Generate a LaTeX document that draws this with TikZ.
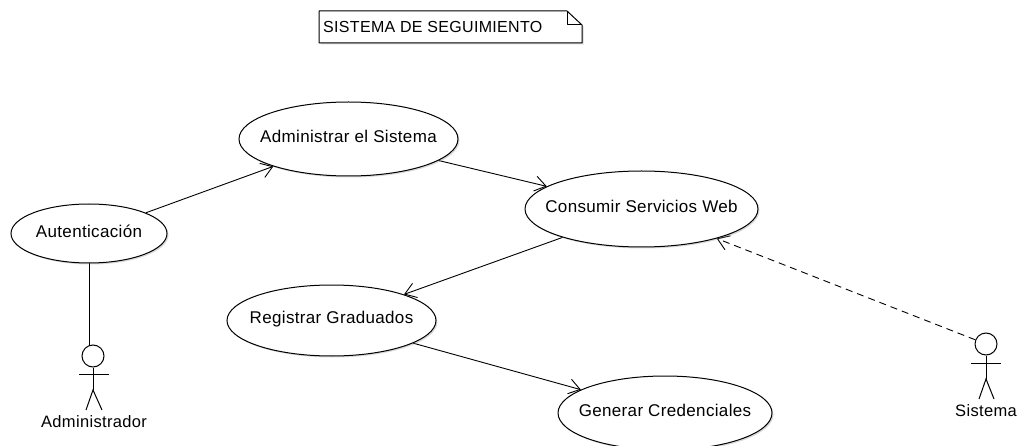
\documentclass[tikz,border=0pt]{standalone}
\usepackage{fontspec}
\setmainfont{Liberation Sans}[LetterSpace=2]
\usetikzlibrary{arrows.meta}
\usetikzlibrary{shadows}
\usetikzlibrary{shapes.geometric}
\pgfdeclarelayer{edgelayer}
\pgfdeclarelayer{nodelayer}
\pgfsetlayers{edgelayer,main,nodelayer}
\newcommand{\caseText}[1]{\makebox[0pt]{\raisebox{5.5pt}{#1}}}
\tikzstyle{use_case}=[fill=white, draw=black, shape=ellipse, inner sep=0pt, line width=1pt, font=\fontsize{17}{19}\selectfont, drop shadow={shadow xshift=1.5pt, shadow yshift=-1.5pt, opacity=0.3}]
\tikzstyle{actor_head}=[fill=white, draw=black, shape=circle, inner sep=0pt, minimum size=22pt, line width=1pt]
\tikzstyle{actor_line}=[-, draw=black, line width=1pt]
\tikzstyle{myText}=[inner sep=0pt, font=\fontsize{16.5}{18}\selectfont]
\tikzstyle{note_line}=[draw=black, fill=white, line width=1pt, line join=round]
\tikzstyle{main_connector}=[-{Straight Barb[length=11pt,width=15pt]}, draw=black, line width=0.9pt]
\tikzstyle{start_connector}=[-, draw=black, line width=0.9pt]
\tikzstyle{dashed_connector}=[-{Straight Barb[length=11pt,width=15pt]}, draw=black, line width=0.9pt, dash pattern=on 7pt off 5pt]

\begin{document}
\begin{tikzpicture}[x=1pt, y=-1pt]
    \useasboundingbox (0, 0) rectangle (1022, 446);
    \begin{pgfonlayer}{nodelayer}
        % note at the top
        \draw [style={note_line}, drop shadow={shadow xshift=1.5pt, shadow yshift=-1.5pt, opacity=0.3}] (319, 11) -- (567, 11) -- (582, 25) -- (582, 43) -- (319, 43) -- cycle;
        \draw [style={note_line}, fill=none] (567, 11) -- (567, 25) -- (582, 25);
        \node [style=myText, anchor=west, font=\fontsize{16}{18}\selectfont] (title) at (323, 27) {SISTEMA DE SEGUIMIENTO};

        % use cases
        \node [style={use_case}, minimum width=156pt, minimum height=59pt] (auth) at (89, 233.5) {\caseText{Autenticación}};
        \node [style={use_case}, minimum width=219pt, minimum height=74pt] (admin) at (348.5, 139) {\caseText{Administrar el Sistema}};
        \node [style={use_case}, minimum width=233pt, minimum height=76pt] (web) at (641.5, 209) {\caseText{Consumir Servicios Web}};
        \node [style={use_case}, minimum width=209pt, minimum height=71pt] (grad) at (331.5, 320.5) {\caseText{Registrar Graduados}};
        \node [style={use_case}, minimum width=214pt, minimum height=74pt] (cred) at (665, 413) {\caseText{Generar Credenciales}};

        % actor on the left
        \node [style={actor_head}] (head1) at (93, 356) {};
        \coordinate (arm1a) at (79, 374);
        \coordinate (arm1b) at (109, 374);
        \coordinate (hip1) at (93, 390);
        \coordinate (leg1a) at (86, 410);
        \coordinate (leg1b) at (102, 410);
        \draw [style={actor_line}] (head1) -- (hip1);
        \draw [style={actor_line}] (arm1a) -- (arm1b);
        \draw [style={actor_line}] (leg1a) -- (hip1) -- (leg1b);
        \node [style=myText] (label1) at (94, 422) {Administrador};

        % actor on the right
        \node [style={actor_head}] (head2) at (986, 344) {};
        \coordinate (arm2a) at (971, 363);
        \coordinate (arm2b) at (1001, 363);
        \coordinate (hip2) at (986, 379);
        \coordinate (leg2a) at (979, 399);
        \coordinate (leg2b) at (994, 399);
        \draw [style={actor_line}] (head2) -- (hip2);
        \draw [style={actor_line}] (arm2a) -- (arm2b);
        \draw [style={actor_line}] (leg2a) -- (hip2) -- (leg2b);
        \node [style=myText] (label2) at (986, 411) {Sistema};
    \end{pgfonlayer}
    \begin{pgfonlayer}{edgelayer}
        \draw [style={start_connector}] (auth.south) -- (auth.south |- head1.north);
        \draw [style={main_connector}] (auth) -- (admin);
        \draw [style={main_connector}] (admin) -- (web);
        \draw [style={main_connector}] (web) -- (grad);
        \draw [style={main_connector}] (grad) -- (cred);
        \draw [style={dashed_connector}] (head2) -- (web);
    \end{pgfonlayer}
\end{tikzpicture}
\end{document}
